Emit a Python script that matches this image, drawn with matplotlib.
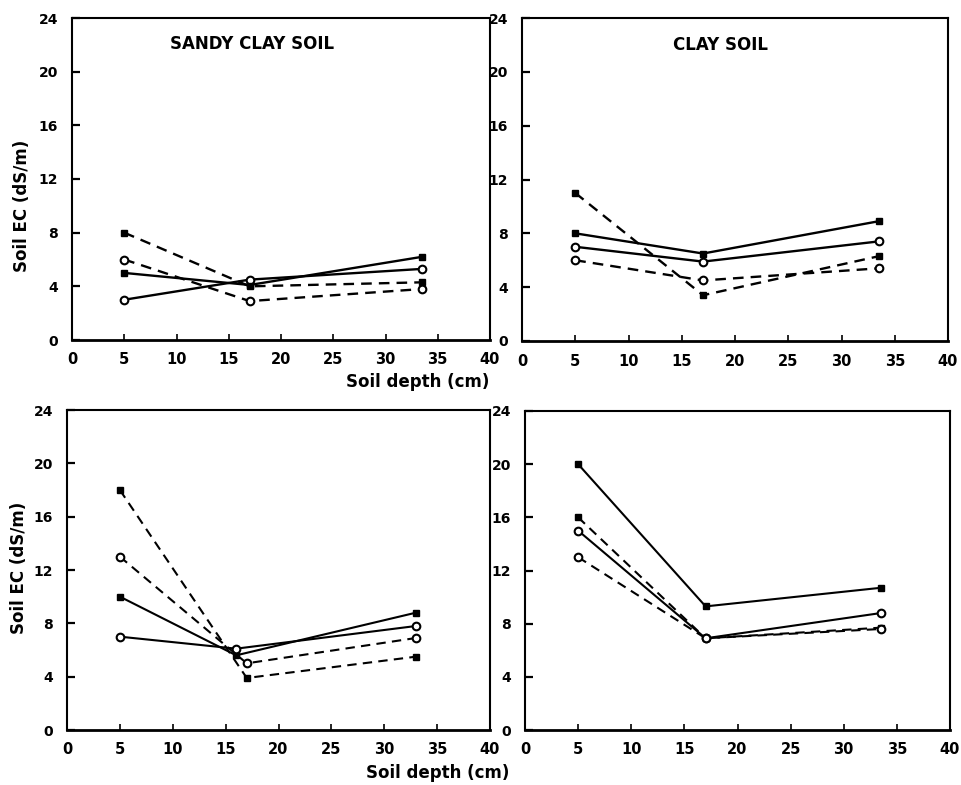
import matplotlib
matplotlib.use("Agg")
import matplotlib.pyplot as plt

plt.rcParams["font.family"] = ["DejaVu Sans"]

# Soil depth (cm) of the sampling points
depth = [5, 17, 33.5]
depth_bl_solid = [5, 16, 33]
depth_bl_dashed = [5, 17, 33]

# Soil EC (dS/m) per panel: A = solid filled, B = solid open,
# C = dashed filled, D = dashed open
tl_A = [5.0, 4.1, 6.2]
tl_B = [3.0, 4.5, 5.3]
tl_C = [8.0, 4.0, 4.3]
tl_D = [6.0, 2.9, 3.8]

tr_A = [8.0, 6.5, 8.9]
tr_B = [7.0, 5.9, 7.4]
tr_C = [11.0, 3.4, 6.3]
tr_D = [6.0, 4.5, 5.4]

bl_A = [10.0, 5.6, 8.8]
bl_B = [7.0, 6.1, 7.8]
bl_C = [18.0, 3.9, 5.5]
bl_D = [13.0, 5.0, 6.9]

br_A = [20.0, 9.3, 10.7]
br_B = [15.0, 6.9, 8.8]
br_C = [16.0, 6.9, 7.7]
br_D = [13.0, 6.9, 7.6]

yticks = [0, 4, 8, 12, 16, 20, 24]
xticks = [0, 5, 10, 15, 20, 25, 30, 35, 40]

W, H = 961, 785
fig = plt.figure(figsize=(W / 100, H / 100), dpi=100)


def frac(left, top, right, bottom):
    return [left / W, 1 - bottom / H, (right - left) / W, (bottom - top) / H]


def draw(ax, xa, A, B, C, D, xb=None, xc=None, xd=None, lw=1.7):
    xb = xb or xa
    xc = xc or xa
    xd = xd or xa
    solid_kw = dict(color="black", lw=lw, linestyle="-")
    dash_kw = dict(color="black", lw=lw, linestyle=(0, (4.5, 3)))
    ax.plot(xa, A, marker="s", ms=4, mfc="black", mec="black", **solid_kw)
    ax.plot(xb, B, marker="o", ms=5.5, mfc="white", mec="black", mew=1.5, **solid_kw)
    ax.plot(xc, C, marker="s", ms=4, mfc="black", mec="black", **dash_kw)
    ax.plot(xd, D, marker="o", ms=5.5, mfc="white", mec="black", mew=1.5, **dash_kw)
    ax.set_xlim(0, 40)
    ax.set_ylim(0, 24)
    ax.set_xticks(xticks)
    ax.set_yticks(yticks)
    ax.set_xticklabels([str(v) for v in xticks], fontsize=10.5, fontweight="bold")
    ax.set_yticklabels([str(v) for v in yticks], fontsize=10, fontweight="bold")
    ax.tick_params(axis="x", direction="in", length=4, width=1.2, pad=9)
    ax.tick_params(axis="y", direction="in", length=6, width=1.6, pad=10)
    for s in ax.spines.values():
        s.set_linewidth(1.5)
    ax.spines["bottom"].set_linewidth(2.0)


ax_tl = fig.add_axes(frac(72, 18, 490, 340))
draw(ax_tl, depth, tl_A, tl_B, tl_C, tl_D)
ax_tl.text(0.43, 0.92, "SANDY CLAY SOIL", transform=ax_tl.transAxes,
           ha="center", va="center", fontsize=12, fontweight="bold")

ax_tr = fig.add_axes(frac(522, 18, 948, 341))
draw(ax_tr, depth, tr_A, tr_B, tr_C, tr_D)
ax_tr.text(0.465, 0.915, "CLAY SOIL", transform=ax_tr.transAxes,
           ha="center", va="center", fontsize=12, fontweight="bold")

ax_bl = fig.add_axes(frac(67, 410, 490, 730))
draw(ax_bl, depth_bl_solid, bl_A, bl_B, bl_C, bl_D,
     xb=depth_bl_solid, xc=depth_bl_dashed, xd=depth_bl_dashed, lw=1.5)

ax_br = fig.add_axes(frac(525, 411, 950, 730))
draw(ax_br, depth, br_A, br_B, br_C, br_D, lw=1.5)

# shared axis titles
fig.text(22 / W, 1 - 206 / H, "Soil EC (dS/m)", rotation=90, ha="center",
         va="center", fontsize=12, fontweight="bold")
fig.text(19 / W, 1 - 568 / H, "Soil EC (dS/m)", rotation=90, ha="center",
         va="center", fontsize=12, fontweight="bold")
fig.text(418 / W, 1 - 382 / H, "Soil depth (cm)", ha="center", va="center",
         fontsize=12, fontweight="bold")
fig.text(438 / W, 1 - 773 / H, "Soil depth (cm)", ha="center", va="center",
         fontsize=12, fontweight="bold")

fig.savefig("out.png", dpi=100)
